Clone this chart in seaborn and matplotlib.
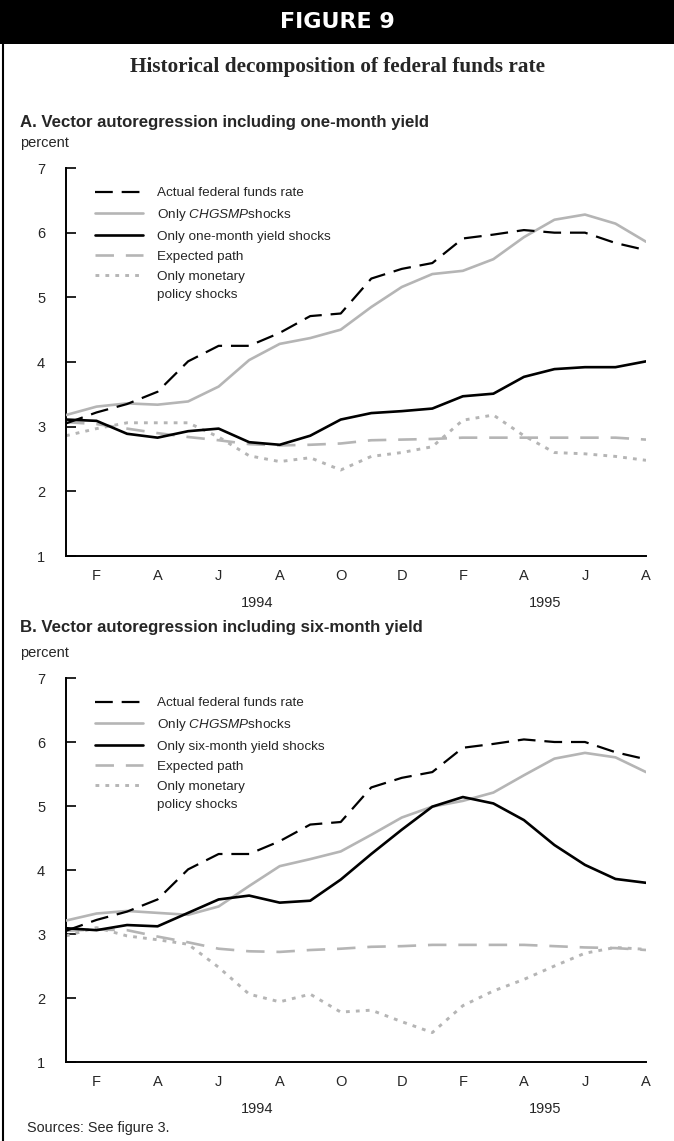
import numpy as np
import pandas as pd
import matplotlib
matplotlib.use("Agg")
import matplotlib.pyplot as plt
import seaborn as sns
from matplotlib.lines import Line2D
from matplotlib.patches import Rectangle

# months Jan 1994 .. Aug 1995
month_idx = list(range(20))
month_labels = ['', 'F', '', 'A', '', 'J', '', 'A', '', 'O', '',
                'D', '', 'F', '', 'A', '', 'J', '', 'A']
years = ['1994', '1995']
year_pos = [6.25, 15.7]

fed_funds = [3.05, 3.22, 3.35, 3.54, 4.01, 4.25, 4.25, 4.45, 4.71, 4.75,
             5.29, 5.44, 5.53, 5.91, 5.97, 6.04, 6.00, 6.00, 5.84, 5.73]

# panel A: VAR with one-month yield
a_chgsmp = [3.18, 3.31, 3.36, 3.34, 3.39, 3.62, 4.03, 4.28, 4.37, 4.50,
            4.85, 5.16, 5.36, 5.41, 5.59, 5.93, 6.20, 6.28, 6.14, 5.86]
a_yield = [3.11, 3.09, 2.89, 2.83, 2.93, 2.97, 2.76, 2.72, 2.86, 3.11,
           3.21, 3.24, 3.28, 3.47, 3.51, 3.77, 3.89, 3.92, 3.92, 4.01]
a_expected = [3.07, 3.04, 2.97, 2.90, 2.84, 2.79, 2.73, 2.71, 2.72, 2.74,
              2.79, 2.80, 2.81, 2.83, 2.83, 2.83, 2.83, 2.83, 2.83, 2.80]
a_monetary = [2.86, 2.97, 3.06, 3.06, 3.06, 2.84, 2.55, 2.46, 2.52, 2.33,
              2.54, 2.60, 2.69, 3.10, 3.18, 2.86, 2.60, 2.58, 2.54, 2.48]

# panel B: VAR with six-month yield
b_chgsmp = [3.21, 3.32, 3.36, 3.33, 3.30, 3.43, 3.75, 4.06, 4.17, 4.29,
            4.55, 4.82, 4.99, 5.08, 5.21, 5.48, 5.74, 5.83, 5.76, 5.53]
b_yield = [3.09, 3.06, 3.14, 3.12, 3.33, 3.54, 3.60, 3.49, 3.52, 3.85,
           4.25, 4.63, 4.99, 5.14, 5.04, 4.78, 4.39, 4.08, 3.86, 3.80]
b_expected = [3.05, 3.07, 3.06, 2.96, 2.87, 2.77, 2.73, 2.72, 2.75, 2.77,
              2.80, 2.81, 2.83, 2.83, 2.83, 2.83, 2.81, 2.79, 2.78, 2.75]
b_monetary = [2.97, 3.10, 2.97, 2.91, 2.84, 2.48, 2.06, 1.94, 2.06, 1.78,
              1.81, 1.63, 1.46, 1.88, 2.11, 2.29, 2.50, 2.70, 2.79, 2.76]

GRAY = '#b5b5b5'
W, H = 674, 1141
FS = 9.7

sns.set_theme(style='white')
plt.rcParams['font.family'] = ['Liberation Sans', 'DejaVu Sans']
plt.rcParams['mathtext.fontset'] = 'custom'
plt.rcParams['mathtext.it'] = 'Liberation Sans:italic'
plt.rcParams['mathtext.rm'] = 'Liberation Sans'


def fx(px):
    return px / W


def fy(px):
    return 1 - px / H


def draw_panel(ax, chgsmp, ylds, expected, monetary, yield_label):
    sns.lineplot(x=month_idx, y=expected, ax=ax, color=GRAY, lw=1.9,
                 linestyle=(0, (7, 4.5)), dash_capstyle='butt',
                 label='Expected path', zorder=2)
    sns.lineplot(x=month_idx, y=monetary, ax=ax, color=GRAY, lw=2.1,
                 linestyle=(0, (1.3, 2.1)), dash_capstyle='butt',
                 label='Only monetary', zorder=2)
    sns.lineplot(x=month_idx, y=chgsmp, ax=ax, color=GRAY, lw=1.9,
                 label=r'Only $\mathit{CHGSMP}$shocks', zorder=3)
    sns.lineplot(x=month_idx, y=ylds, ax=ax, color='black', lw=1.9,
                 label=yield_label, zorder=4)
    sns.lineplot(x=month_idx, y=fed_funds, ax=ax, color='black', lw=1.6,
                 linestyle=(0, (8, 4)), dash_capstyle='butt',
                 label='Actual federal funds rate', zorder=5)

    ax.set_xlim(0, 19)
    ax.set_ylim(1, 7)
    for s in ['top', 'right']:
        ax.spines[s].set_visible(False)
    for s in ['left', 'bottom']:
        ax.spines[s].set_color('black')
        ax.spines[s].set_linewidth(1.4)
    ax.set_xticks(month_idx)
    ax.set_xticklabels(month_labels)
    ax.set_xticks([11], minor=True)
    ax.set_yticks(range(1, 8))
    ax.tick_params(axis='x', which='major', direction='in', length=5, width=1.2,
                   color='black', pad=9, labelsize=10.5)
    ax.tick_params(axis='x', which='minor', direction='in', length=10, width=1.2,
                   color='black')
    ax.tick_params(axis='y', direction='in', length=7, width=1.2, color='black',
                   pad=15, labelsize=10.5, left=True)
    ax.set_xlabel('')
    ax.set_ylabel('')
    ax.grid(False)

    handles, labels = ax.get_legend_handles_labels()
    order = ['Actual federal funds rate', r'Only $\mathit{CHGSMP}$shocks',
             yield_label, 'Expected path', 'Only monetary']
    hl = dict(zip(labels, handles))
    leg = ax.legend([hl[k] for k in order], order, loc='upper left',
                    bbox_to_anchor=(0.05, 0.951), frameon=False, fontsize=FS,
                    handlelength=3.55, handletextpad=1.05, labelspacing=0.56,
                    borderpad=0, borderaxespad=0)

    trans = ax.get_xaxis_transform()
    for yr, xp in zip(years, year_pos):
        ax.text(xp, -0.122, yr, transform=trans, ha='center', va='center',
                fontsize=10.5)
    return leg


fig = plt.figure(figsize=(W / 100, H / 100), dpi=100)

# header bar and frame line
fig.patches.append(Rectangle((0, fy(44)), 1, 44 / H, transform=fig.transFigure,
                             facecolor='black', edgecolor='none', zorder=0))
fig.lines.append(Line2D([fx(3), fx(3)], [0, 1], transform=fig.transFigure,
                        color='black', lw=1.5))
fig.text(0.5, fy(22), 'FIGURE 9', color='white', fontsize=16,
         fontweight='bold', family='DejaVu Sans', ha='center', va='center')
fig.text(0.5, fy(67), 'Historical decomposition of federal funds rate',
         family='Liberation Serif', fontweight='bold', fontsize=15.3,
         ha='center', va='center')

axA = fig.add_axes([fx(66), fy(556), fx(580), 388 / H])
legA = draw_panel(axA, a_chgsmp, a_yield, a_expected, a_monetary,
                  'Only one-month yield shocks')
fig.text(fx(20), fy(122), 'A. Vector autoregression including one-month yield',
         fontweight='bold', fontsize=12.1, ha='left', va='center')
fig.text(fx(20), fy(143), 'percent', fontsize=10.5, ha='left', va='center')

axB = fig.add_axes([fx(66), fy(1062), fx(580), 384 / H])
legB = draw_panel(axB, b_chgsmp, b_yield, b_expected, b_monetary,
                  'Only six-month yield shocks')
fig.text(fx(20), fy(628), 'B. Vector autoregression including six-month yield',
         fontweight='bold', fontsize=12.1, ha='left', va='center')
fig.text(fx(20), fy(653), 'percent', fontsize=10.5, ha='left', va='center')

fig.text(fx(27), fy(1128), 'Sources: See figure 3.', fontsize=10.4,
         ha='left', va='center')

# second line of the last legend label, placed under its first line
fig.canvas.draw()
renderer = fig.canvas.get_renderer()
for leg in [legA, legB]:
    bb = leg.get_texts()[-1].get_window_extent(renderer)
    fig.text(bb.x0 / W, (bb.y0 - 18.3) / H, 'policy shocks', fontsize=FS,
             ha='left', va='bottom')

fig.savefig('out.png', dpi=100)
